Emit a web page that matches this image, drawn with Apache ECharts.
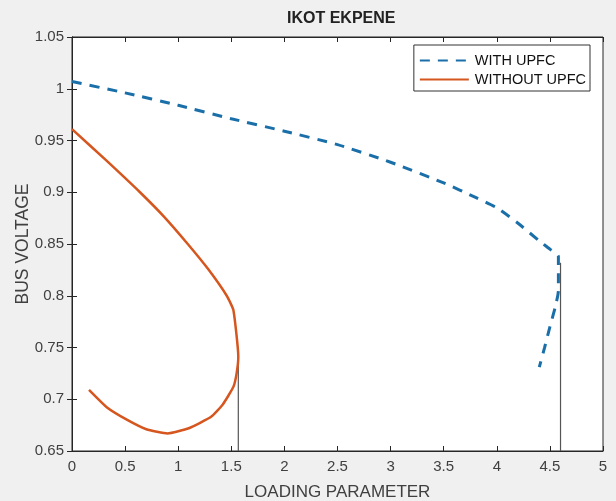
<!DOCTYPE html>
<html>
<head>
<meta charset="utf-8">
<script src="https://cdn.jsdelivr.net/npm/echarts@6/dist/echarts.min.js"></script>
<style>
  html, body { margin: 0; padding: 0; background: #f0f0f0; }
  #main { width: 616px; height: 501px; }
</style>
</head>
<body>
<div id="main"></div>
<script>
var myChart = echarts.init(document.getElementById('main'));

// WITH UPFC (loading parameter, bus voltage)
var withX = [0, 0.5, 1, 1.5, 2, 2.5, 3, 3.5, 3.8, 4.0, 4.2, 4.4, 4.5, 4.58, 4.58, 4.55, 4.5, 4.45, 4.4];
var withY = [1.007, 0.996, 0.984, 0.971, 0.959, 0.946, 0.929, 0.909, 0.895, 0.885, 0.870, 0.853, 0.845, 0.838, 0.805, 0.789, 0.770, 0.750, 0.731];

// WITHOUT UPFC
var withoutX = [0, 0.32, 0.64, 0.87, 1.09, 1.28, 1.457, 1.52, 1.566, 1.55, 1.52, 1.42, 1.31, 1.1, 0.9, 0.7, 0.52, 0.33, 0.16];
var withoutY = [0.961, 0.931, 0.900, 0.876, 0.850, 0.826, 0.800, 0.786, 0.741, 0.725, 0.712, 0.695, 0.683, 0.672, 0.667, 0.671, 0.680, 0.692, 0.709];

// thin drop lines at the collapse points
var dropA = [[1.566, 0.742], [1.566, 0.65]];
var dropB = [[4.6, 0.832], [4.6, 0.65]];

function pairs(xs, ys) {
    return xs.map(function (x, i) { return [x, ys[i]]; });
}

var tickFont = { fontFamily: 'Liberation Sans', fontSize: 15, color: '#404040' };

var option = {
    backgroundColor: '#f0f0f0',
    animation: false,
    title: {
        text: 'IKOT EKPENE',
        left: 282,
        top: 6,
        textStyle: { fontFamily: 'Liberation Sans', fontSize: 16, fontWeight: 'bold', color: '#222' }
    },
    legend: {
        right: 26,
        top: 45,
        orient: 'vertical',
        align: 'left',
        backgroundColor: '#fff',
        borderColor: '#333',
        borderWidth: 1,
        padding: [8, 4, 4, 5],
        itemGap: 4,
        itemWidth: 49,
        itemHeight: 14,
        itemStyle: { opacity: 0 },
        textStyle: { fontFamily: 'Liberation Sans', fontSize: 14.5, color: '#111', padding: [0, 0, 0, 1] },
        data: ['WITH UPFC', 'WITHOUT UPFC']
    },
    grid: {
        left: 72,
        right: 13,
        top: 37,
        bottom: 50,
        outerBoundsMode: 'none',
        show: true,
        backgroundColor: '#fff',
        borderColor: '#262626',
        borderWidth: 1
    },
    xAxis: [{
        type: 'value',
        min: 0,
        max: 5,
        interval: 0.5,
        name: 'LOADING PARAMETER',
        nameLocation: 'middle',
        nameGap: 33,
        nameMoveOverlap: false,
        nameTextStyle: { fontFamily: 'Liberation Sans', fontSize: 17, color: '#404040' },
        axisLine: { lineStyle: { color: '#262626' } },
        axisTick: { inside: true, length: 5, lineStyle: { color: '#262626' } },
        axisLabel: Object.assign({ margin: 8 }, tickFont),
        splitLine: { show: false }
    }, {
        type: 'value',
        position: 'top',
        min: 0,
        max: 5,
        interval: 0.5,
        axisLine: { lineStyle: { color: '#262626' } },
        axisTick: { inside: true, length: 5, lineStyle: { color: '#262626' } },
        axisLabel: { show: false },
        splitLine: { show: false }
    }],
    yAxis: [{
        type: 'value',
        min: 0.65,
        max: 1.05,
        interval: 0.05,
        name: 'BUS VOLTAGE',
        nameLocation: 'middle',
        nameGap: 40,
        nameMoveOverlap: false,
        nameTextStyle: { fontFamily: 'Liberation Sans', fontSize: 17.5, color: '#404040' },
        axisLine: { show: true, lineStyle: { color: '#262626' } },
        axisTick: { show: true, inside: true, length: 5, lineStyle: { color: '#262626' } },
        axisLabel: Object.assign({ margin: 8 }, tickFont),
        splitLine: { show: false }
    }, {
        type: 'value',
        position: 'right',
        min: 0.65,
        max: 1.05,
        interval: 0.05,
        axisLine: { show: true, lineStyle: { color: '#262626' } },
        axisTick: { show: true, inside: true, length: 5, lineStyle: { color: '#262626' } },
        axisLabel: { show: false },
        splitLine: { show: false }
    }],
    series: [
        {
            name: 'drop1',
            type: 'line',
            data: dropA,
            symbol: 'none',
            silent: true,
            lineStyle: { color: '#555', width: 1.2 }
        },
        {
            name: 'drop2',
            type: 'line',
            data: dropB,
            symbol: 'none',
            silent: true,
            lineStyle: { color: '#555', width: 1.2 }
        },
        {
            name: 'WITH UPFC',
            type: 'line',
            data: pairs(withX, withY),
            symbol: 'none',
            smooth: 0.2,
            color: '#1a6fa8',
            lineStyle: { color: '#1a6fa8', width: 3, type: [10, 8] }
        },
        {
            name: 'WITHOUT UPFC',
            type: 'line',
            data: pairs(withoutX, withoutY),
            symbol: 'none',
            smooth: 0.15,
            color: '#d5561f',
            lineStyle: { color: '#d5561f', width: 2.5 }
        }
    ]
};

myChart.setOption(option);
</script>
</body>
</html>
